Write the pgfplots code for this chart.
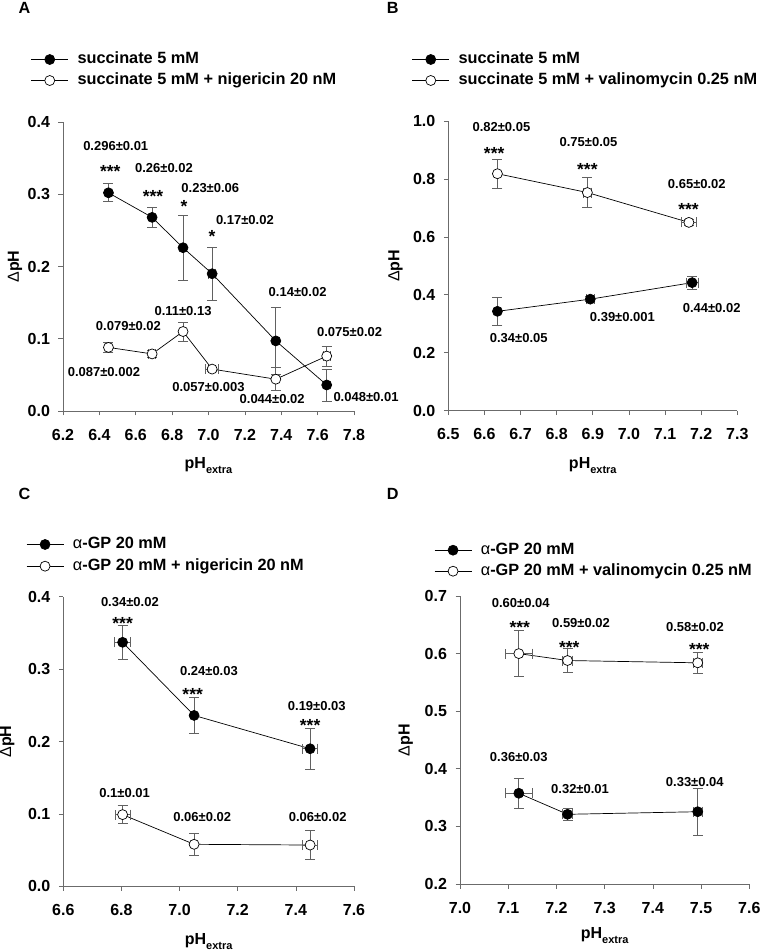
\documentclass[border=0pt]{standalone}
\usepackage{fontspec}
\setmainfont{Liberation Sans}
\usepackage{pgfplots}
\pgfplotsset{compat=1.18}
\definecolor{axgray}{gray}{0.42}
\definecolor{errgray}{gray}{0.38}
\newcommand{\ann}{\fontsize{13}{15}\selectfont\bfseries}
\newcommand{\starf}{\fontsize{17.5}{19}\selectfont\bfseries}
\newcommand{\tickf}{\fontsize{16}{18}\selectfont\bfseries}
\newcommand{\legf}{\fontsize{16.3}{19}\selectfont\bfseries}
\newcommand{\labf}{\fontsize{16}{18}\selectfont\bfseries}
\newcommand{\letf}{\fontsize{16.2}{18}\selectfont\bfseries}
\newcommand{\xlab}{pH\raisebox{-5pt}{\fontsize{11}{12}\selectfont extra}}
\newcommand{\ylab}{{\mdseries Δ}pH}
\tikzset{stlab/.style={font=\starf, yshift=-3.9pt}}
\pgfplotsset{
  panel/.style={
    scale only axis, anchor=south west, clip=false,
    axis x line*=bottom, axis y line*=left,
    axis line style={-, draw=axgray, line width=0.7pt},
    tick style={draw=axgray, line width=0.7pt},
    tick align=outside, major tick length=4.5pt,
    scaled ticks=false,
    ticklabel style={font=\tickf},
    /pgf/number format/assume math mode=true,
    xticklabel style={yshift=-10pt, /pgf/number format/fixed, /pgf/number format/fixed zerofill, /pgf/number format/precision=1},
    yticklabel style={xshift=-5pt, /pgf/number format/fixed, /pgf/number format/fixed zerofill, /pgf/number format/precision=1},
    xlabel=\xlab, ylabel=\ylab,
    xlabel style={font=\labf, anchor=base},
    ylabel style={font=\labf, anchor=center},
    legend cell align=left,
    legend image code/.code={\draw[mark repeat=2,mark phase=2,#1] plot coordinates {(0pt,0pt) (18.5pt,0pt) (37pt,0pt)};},
    legend style={anchor=north west, draw=none, fill=none, inner sep=0pt, column sep=9pt,
      nodes={inner sep=0pt, text height=12pt, text depth=4pt, font=\legf}},
  },
  ser/.style={black, line width=0.7pt, mark=*, mark size=5pt,
    /pgfplots/error bars/x dir=both, /pgfplots/error bars/x explicit,
    /pgfplots/error bars/y dir=both, /pgfplots/error bars/y explicit,
    /pgfplots/error bars/error bar style={draw=errgray, line width=0.7pt},
    /pgfplots/error bars/error mark options={rotate=90, draw=errgray, mark size=5pt, line width=0.7pt}},
  filled/.style={ser, mark options={fill=black, draw=black, line width=0.7pt}},
  open/.style={ser, mark options={fill=white, draw=black, line width=0.7pt}},
}
\begin{document}
\begin{tikzpicture}
\useasboundingbox (0pt,0pt) rectangle (761pt,951pt);
\node[font=\letf, anchor=north west, inner sep=0pt] at (18.3pt,949.3pt) {A};
\node[font=\letf, anchor=north west, inner sep=0pt] at (386.7pt,949.3pt) {B};
\node[font=\letf, anchor=north west, inner sep=0pt] at (18.3pt,462.7pt) {C};
\node[font=\letf, anchor=north west, inner sep=0pt] at (386.7pt,462.7pt) {D};

% ---------------- Panel A
\begin{axis}[panel, at={(63pt,540pt)}, width=291pt, height=289pt,
  xmin=6.2, xmax=7.8, ymin=0, ymax=0.4, xtick distance=0.2, ytick distance=0.1,
  xlabel style={at={(axis description cs:0.5,0)}, yshift=-58pt},
  ylabel style={at={(axis description cs:-0.165,0.5)}},
  legend style={at={(axis description cs:-0.111,1.2446)}, row sep=5pt}]
\addplot[filled] table[x=x, y=y, x error=ex, y error=ey] {
x y ex ey
6.45 0.302 0 0.0125
6.69 0.268 0 0.014
6.86 0.226 0 0.045
7.02 0.190 0.02 0.037
7.37 0.097 0 0.046
7.65 0.036 0 0.022
};
\addlegendentry{succinate 5 mM}
\addplot[open] table[x=x, y=y, x error=ex, y error=ey] {
x y ex ey
6.45 0.088 0 0.0075
6.69 0.079 0.02 0.005
6.86 0.110 0 0.013
7.02 0.058 0.035 0.003
7.37 0.044 0 0.016
7.65 0.076 0.02 0.014
};
\addlegendentry{succinate 5 mM + nigericin 20 nM}
\node[font=\ann] at (axis cs:6.49,0.367) {0.296±0.01};
\node[stlab] at (axis cs:6.46,0.337) {***};
\node[font=\ann] at (axis cs:6.755,0.336) {0.26±0.02};
\node[stlab] at (axis cs:6.695,0.303) {***};
\node[font=\ann] at (axis cs:7.01,0.308) {0.23±0.06};
\node[stlab] at (axis cs:6.865,0.289) {*};
\node[font=\ann] at (axis cs:7.2,0.265) {0.17±0.02};
\node[stlab] at (axis cs:7.02,0.247) {*};
\node[font=\ann] at (axis cs:7.49,0.165) {0.14±0.02};
\node[font=\ann] at (axis cs:6.86,0.139) {0.11±0.13};
\node[font=\ann] at (axis cs:6.56,0.117) {0.079±0.02};
\node[font=\ann] at (axis cs:6.425,0.054) {0.087±0.002};
\node[font=\ann] at (axis cs:7.0,0.033) {0.057±0.003};
\node[font=\ann] at (axis cs:7.35,0.017) {0.044±0.02};
\node[font=\ann] at (axis cs:7.776,0.109) {0.075±0.02};
\node[font=\ann] at (axis cs:7.866,0.019) {0.048±0.01};
\end{axis}

% ---------------- Panel B
\begin{axis}[panel, at={(448.3pt,540.3pt)}, width=289pt, height=289.7pt,
  xmin=6.5, xmax=7.3, ymin=0, ymax=1.0, xtick distance=0.1, ytick distance=0.2,
  xlabel style={at={(axis description cs:0.5,0)}, yshift=-58pt},
  ylabel style={at={(axis description cs:-0.183,0.5)}},
  legend style={at={(axis description cs:-0.1266,1.2406)}, row sep=5pt}]
\addplot[filled] table[x=x, y=y, x error=ex, y error=ey] {
x y ex ey
6.636 0.343 0 0.047
6.893 0.385 0.01 0.008
7.175 0.442 0.017 0.023
};
\addlegendentry{succinate 5 mM}
\addplot[open] table[x=x, y=y, x error=ex, y error=ey] {
x y ex ey
6.636 0.818 0 0.051
6.885 0.753 0.01 0.051
7.166 0.650 0.02 0.01
};
\addlegendentry{succinate 5 mM + valinomycin 0.25 nM}
\node[font=\ann] at (axis cs:6.647,0.980) {0.82±0.05};
\node[stlab] at (axis cs:6.627,0.903) {***};
\node[font=\ann] at (axis cs:6.888,0.929) {0.75±0.05};
\node[stlab] at (axis cs:6.885,0.846) {***};
\node[font=\ann] at (axis cs:7.188,0.7825) {0.65±0.02};
\node[stlab] at (axis cs:7.165,0.708) {***};
\node[font=\ann] at (axis cs:6.695,0.252) {0.34±0.05};
\node[font=\ann] at (axis cs:6.982,0.322) {0.39±0.001};
\node[font=\ann] at (axis cs:7.229,0.3555) {0.44±0.02};
\end{axis}

% ---------------- Panel C
\begin{axis}[panel, at={(63.3pt,64.7pt)}, width=290.7pt, height=289.6pt,
  xmin=6.6, xmax=7.6, ymin=0, ymax=0.4, xtick distance=0.2, ytick distance=0.1,
  xlabel style={at={(axis description cs:0.5,0)}, yshift=-58pt},
  ylabel style={at={(axis description cs:-0.193,0.5)}},
  legend style={at={(axis description cs:-0.1283,1.2086)}, row sep=5.7pt}]
\addplot[filled] table[x=x, y=y, x error=ex, y error=ey] {
x y ex ey
6.804 0.337 0.027 0.023
7.05 0.236 0 0.025
7.449 0.190 0.026 0.028
};
\addlegendentry{{\mdseries α}-GP 20 mM}
\addplot[open] table[x=x, y=y, x error=ex, y error=ey] {
x y ex ey
6.804 0.099 0.026 0.0124
7.05 0.058 0 0.0154
7.449 0.057 0.026 0.02
};
\addlegendentry{{\mdseries α}-GP 20 mM + nigericin 20 nM}
\node[font=\ann] at (axis cs:6.829,0.392) {0.34±0.02};
\node[stlab] at (axis cs:6.804,0.369) {***};
\node[font=\ann] at (axis cs:7.101,0.298) {0.24±0.03};
\node[stlab] at (axis cs:7.045,0.27) {***};
\node[font=\ann] at (axis cs:7.472,0.249) {0.19±0.03};
\node[stlab] at (axis cs:7.449,0.227) {***};
\node[font=\ann] at (axis cs:6.811,0.1285) {0.1±0.01};
\node[font=\ann] at (axis cs:7.078,0.096) {0.06±0.02};
\node[font=\ann] at (axis cs:7.475,0.096) {0.06±0.02};
\end{axis}

% ---------------- Panel D
\begin{axis}[panel, at={(460pt,67pt)}, width=289.3pt, height=288pt,
  xmin=7.0, xmax=7.6, ymin=0.2, ymax=0.7, xtick distance=0.1, ytick distance=0.1,
  xlabel style={at={(axis description cs:0.5,0)}, yshift=-54.5pt},
  ylabel style={at={(axis description cs:-0.187,0.5)}},
  legend style={at={(axis description cs:-0.0899,1.1875)}, row sep=5pt}]
\addplot[filled] table[x=x, y=y, x error=ex, y error=ey] {
x y ex ey
7.122 0.3575 0.028 0.026
7.223 0.321 0.01 0.0104
7.493 0.3255 0.01 0.0405
};
\addlegendentry{{\mdseries α}-GP 20 mM}
\addplot[open] table[x=x, y=y, x error=ex, y error=ey] {
x y ex ey
7.122 0.600 0.028 0.040
7.223 0.588 0.01 0.021
7.493 0.584 0.01 0.018
};
\addlegendentry{{\mdseries α}-GP 20 mM + valinomycin 0.25 nM}
\node[font=\ann] at (axis cs:7.126,0.688) {0.60±0.04};
\node[stlab] at (axis cs:7.124,0.6526) {***};
\node[font=\ann] at (axis cs:7.251,0.6526) {0.59±0.02};
\node[stlab] at (axis cs:7.2267,0.6179) {***};
\node[font=\ann] at (axis cs:7.4874,0.6457) {0.58±0.02};
\node[stlab] at (axis cs:7.4963,0.6132) {***};
\node[font=\ann] at (axis cs:7.122,0.42) {0.36±0.03};
\node[font=\ann] at (axis cs:7.249,0.3644) {0.32±0.01};
\node[font=\ann] at (axis cs:7.487,0.3776) {0.33±0.04};
\end{axis}
\end{tikzpicture}
\end{document}
